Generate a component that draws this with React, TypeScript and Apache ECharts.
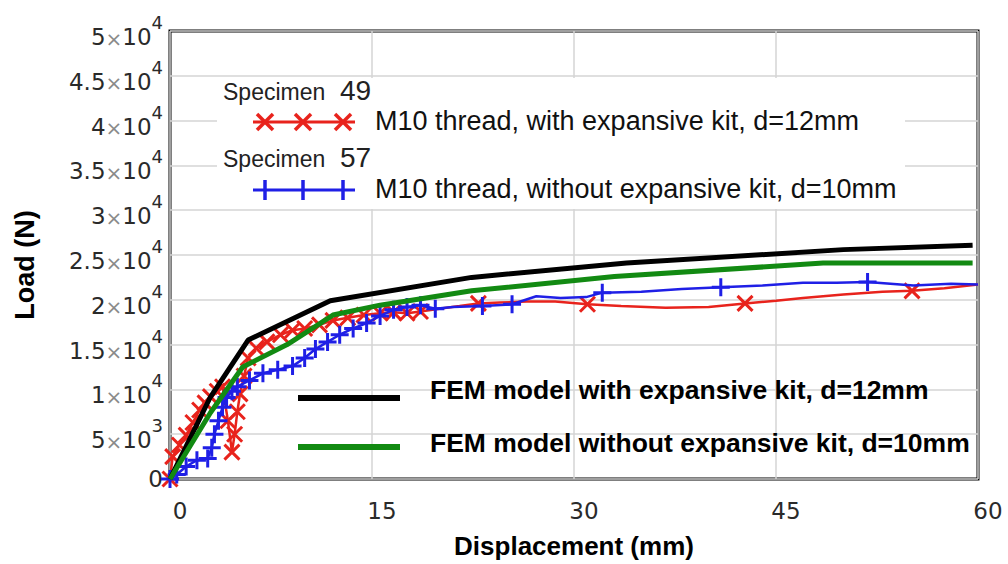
import React, { useEffect, useRef } from "react";
import * as echarts from "echarts";

// ---- data (displacement in mm, load in N) ----
const xTicks = [0, 15, 30, 45, 60];
const yMax = 50000;

const redX = [0, 0.2, 0.7, 1.2, 1.7, 2.2, 2.6, 3.0, 3.5, 3.9, 4.3, 4.6, 4.8, 5.0, 5.2, 5.5, 5.8, 6.4, 7.2, 8.2, 9.1, 10.0, 11.1, 12.1, 13.2, 14.4, 15.6, 16.6, 17.6, 18.6, 20.0, 21.5, 22.9, 24.5, 26.5, 28.6, 31.0, 33.5, 36.8, 40.0, 42.7, 45.0, 47.0, 50.0, 52.9, 55.1, 57.5, 60];
const redY = [0, 2500, 3800, 4900, 6300, 7700, 8500, 9200, 9800, 10300, 6500, 3000, 5000, 7500, 9500, 11500, 13500, 14600, 15300, 16100, 16600, 16800, 17200, 17700, 18000, 18300, 18500, 18600, 18500, 18700, 19000, 19300, 19600, 19700, 19800, 19800, 19500, 19300, 19100, 19200, 19600, 19900, 20200, 20600, 20900, 21000, 21300, 21700];
const redMark = [1, 1, 1, 1, 1, 1, 1, 1, 1, 1, 1, 1, 1, 1, 1, 1, 1, 1, 1, 1, 1, 1, 1, 1, 1, 1, 1, 1, 1, 1, 0, 0, 1, 0, 0, 0, 1, 0, 0, 0, 1, 0, 0, 0, 0, 1, 0, 0];

const blueX = [0, 0.5, 1.2, 2.0, 2.8, 3.1, 3.3, 3.6, 3.9, 4.2, 4.6, 5.0, 5.9, 6.9, 8.0, 9.1, 10.0, 10.8, 11.7, 12.6, 13.6, 14.6, 15.6, 16.6, 17.6, 18.6, 19.7, 21.0, 23.2, 25.4, 27.2, 29.0, 30.9, 32.1, 35.0, 38.0, 40.9, 44.0, 47.0, 49.5, 51.8, 55.2, 58.0, 60];
const blueY = [0, 500, 1400, 2100, 2300, 3500, 5000, 6500, 8000, 9100, 9800, 10300, 11000, 11800, 12200, 12600, 13500, 14500, 15300, 16100, 16800, 17400, 18200, 18900, 19200, 19400, 19000, 19200, 19300, 19500, 20400, 20200, 20300, 20800, 20900, 21200, 21400, 21600, 21900, 21900, 22000, 21600, 21800, 21700];
const blueMark = [1, 1, 1, 1, 1, 1, 1, 1, 1, 1, 1, 1, 1, 1, 1, 1, 1, 1, 1, 1, 1, 1, 1, 1, 1, 1, 1, 0, 1, 1, 0, 0, 0, 1, 0, 0, 1, 0, 0, 0, 1, 0, 0, 0];

const femKitX = [0, 3.0, 5.8, 11.9, 22.4, 33.9, 50.0, 59.6];
const femKitY = [0, 9150, 15500, 19900, 22500, 24100, 25600, 26100];

const femNoKitX = [0, 3.0, 5.4, 8.7, 12.1, 15.6, 22.4, 33.0, 48.5, 59.6];
const femNoKitY = [0, 7400, 12500, 15000, 18300, 19400, 21000, 22600, 24100, 24100];

const legendSpecimens = ["49", "57"];
const legendExp = [
  "M10 thread, with expansive kit, d=12mm",
  "M10 thread, without expansive kit, d=10mm",
];
const legendFem = [
  "FEM model with expansive kit, d=12mm",
  "FEM model without expansive kit, d=10mm",
];
const xTitle = "Displacement (mm)";
const yTitle = "Load (N)";

const RED = "#e8231c";
const BLUE = "#1f1fe6";
const GREEN = "#128a12";
const X_SYM = "path://M0,0L10,10M10,0L0,10";
const P_SYM = "path://M5,0L5,10M0,5L10,5";

const TICK_FONT = "DejaVu Sans";
const SANS = "Liberation Sans";

function yLabel(v: number): string {
  if (v === 0) return "{z|0}";
  const e = Math.floor(Math.log10(v) + 1e-9);
  const m = Math.round((v / Math.pow(10, e)) * 10) / 10;
  return `{n|${m}}{x|×}{n|10}{s|${e}}`;
}

function buildData(xs: number[], ys: number[], marks: number[], sym: string) {
  return xs.map((x, i) => ({
    value: [x, ys[i]],
    symbol: marks[i] ? sym : "none",
  }));
}

export default function App() {
  const ref = useRef<HTMLDivElement>(null);

  useEffect(() => {
    if (!ref.current) return;
    const chart = echarts.init(ref.current, null, { renderer: "svg" });

    const legendIconX = [265, 303, 343];
    const graphics: any[] = [];
    // white box behind the specimen legend
    graphics.push({
      type: "rect",
      z: 1,
      shape: { x: 217, y: 78, width: 688, height: 131 },
      style: { fill: "#fff" },
    });
    const specY = [92, 159];
    const iconY = [122, 190];
    legendSpecimens.forEach((num, k) => {
      graphics.push({
        type: "text",
        z: 2,
        left: 223,
        top: specY[k] - 12,
        style: { text: "Specimen", font: `23px ${SANS}`, fill: "#222" },
      });
      graphics.push({
        type: "text",
        z: 2,
        left: 340,
        top: specY[k] - 16,
        style: { text: num, font: `28px ${SANS}`, fill: "#222" },
      });
      const col = k === 0 ? RED : BLUE;
      graphics.push({
        type: "line",
        z: 2,
        shape: { x1: 253, y1: iconY[k], x2: 355, y2: iconY[k] },
        style: { stroke: col, lineWidth: 3 },
      });
      legendIconX.forEach((cx) => {
        if (k === 0) {
          graphics.push({
            type: "line",
            z: 2,
            shape: { x1: cx - 8, y1: iconY[k] - 8, x2: cx + 8, y2: iconY[k] + 8 },
            style: { stroke: col, lineWidth: 3.5 },
          });
          graphics.push({
            type: "line",
            z: 2,
            shape: { x1: cx - 8, y1: iconY[k] + 8, x2: cx + 8, y2: iconY[k] - 8 },
            style: { stroke: col, lineWidth: 3.5 },
          });
        } else {
          graphics.push({
            type: "line",
            z: 2,
            shape: { x1: cx, y1: iconY[k] - 10, x2: cx, y2: iconY[k] + 10 },
            style: { stroke: col, lineWidth: 3.5 },
          });
        }
      });
      graphics.push({
        type: "text",
        z: 2,
        left: 375,
        top: iconY[k] - 15,
        style: { text: legendExp[k], font: `27px ${SANS}`, fill: "#111" },
      });
    });

    const femLineY = [398, 447];
    const femTextY = [391, 444];
    legendFem.forEach((t, k) => {
      graphics.push({
        type: "line",
        z: 2,
        shape: { x1: 298, y1: femLineY[k], x2: 400, y2: femLineY[k] },
        style: { stroke: k === 0 ? "#000" : GREEN, lineWidth: 6 },
      });
      graphics.push({
        type: "text",
        z: 2,
        left: 430,
        top: femTextY[k] - 15,
        style: { text: t, font: `bold 26.5px ${SANS}`, fill: "#000" },
      });
    });

    // y axis title
    graphics.push({
      type: "text",
      z: 2,
      x: 25,
      y: 265,
      rotation: Math.PI / 2,
      style: {
        text: yTitle,
        font: `bold 27px ${SANS}`,
        fill: "#000",
        align: "center",
        verticalAlign: "middle",
      },
    });

    chart.setOption({
      animation: false,
      backgroundColor: "#fff",
      grid: {
        left: 170,
        right: 30,
        top: 31,
        bottom: 85,
        show: true,
        borderColor: "#000",
        borderWidth: 3,
        backgroundColor: "transparent",
      },
      xAxis: {
        type: "value",
        min: xTicks[0],
        max: xTicks[xTicks.length - 1],
        interval: 15,
        name: xTitle,
        nameLocation: "middle",
        nameGap: 54,
        nameTextStyle: {
          fontFamily: SANS,
          fontWeight: "bold",
          fontSize: 26,
          color: "#000",
        },
        axisLine: { show: false },
        axisTick: { show: false },
        splitLine: { show: true, lineStyle: { color: "#d4d4d4", width: 1.5 } },
        axisLabel: {
          margin: 20,
          padding: [0, 0, 0, 20],
          fontFamily: TICK_FONT,
          fontSize: 23,
          color: "#2a2a2a",
        },
      },
      yAxis: {
        type: "value",
        min: 0,
        max: yMax,
        interval: 5000,
        axisLine: { show: false },
        axisTick: { show: false },
        splitLine: { show: true, lineStyle: { color: "#d4d4d4", width: 1.5 } },
        axisLabel: {
          margin: 7,
          formatter: yLabel,
          rich: {
            z: { fontFamily: TICK_FONT, fontSize: 23, color: "#2a2a2a" },
            n: {
              fontFamily: TICK_FONT,
              fontSize: 23,
              color: "#2a2a2a",
              verticalAlign: "bottom",
            },
            x: {
              fontFamily: TICK_FONT,
              fontSize: 20,
              color: "#8a8a8a",
              verticalAlign: "bottom",
            },
            s: {
              fontFamily: TICK_FONT,
              fontSize: 18,
              color: "#2a2a2a",
              verticalAlign: "top",
              padding: [0, 0, 17, 0],
            },
          },
        },
      },
      series: [
        {
          type: "line",
          data: buildData(redX, redY, redMark, X_SYM),
          symbolSize: 15,
          showAllSymbol: true,
          lineStyle: { color: RED, width: 2.5 },
          itemStyle: { color: RED, borderColor: RED, borderWidth: 3 },
          z: 3,
        },
        {
          type: "line",
          data: buildData(blueX, blueY, blueMark, P_SYM),
          symbolSize: 18,
          showAllSymbol: true,
          lineStyle: { color: BLUE, width: 2.5 },
          itemStyle: { color: BLUE, borderColor: BLUE, borderWidth: 3 },
          z: 4,
        },
        {
          type: "line",
          data: femKitX.map((x, i) => [x, femKitY[i]]),
          symbol: "none",
          lineStyle: { color: "#000", width: 5 },
          z: 5,
        },
        {
          type: "line",
          data: femNoKitX.map((x, i) => [x, femNoKitY[i]]),
          symbol: "none",
          lineStyle: { color: GREEN, width: 5 },
          z: 6,
        },
      ],
      graphic: graphics,
    });

    return () => chart.dispose();
  }, []);

  return (
    <div
      ref={ref}
      style={{ position: "fixed", left: 0, top: 0, width: 1008, height: 564 }}
    />
  );
}
